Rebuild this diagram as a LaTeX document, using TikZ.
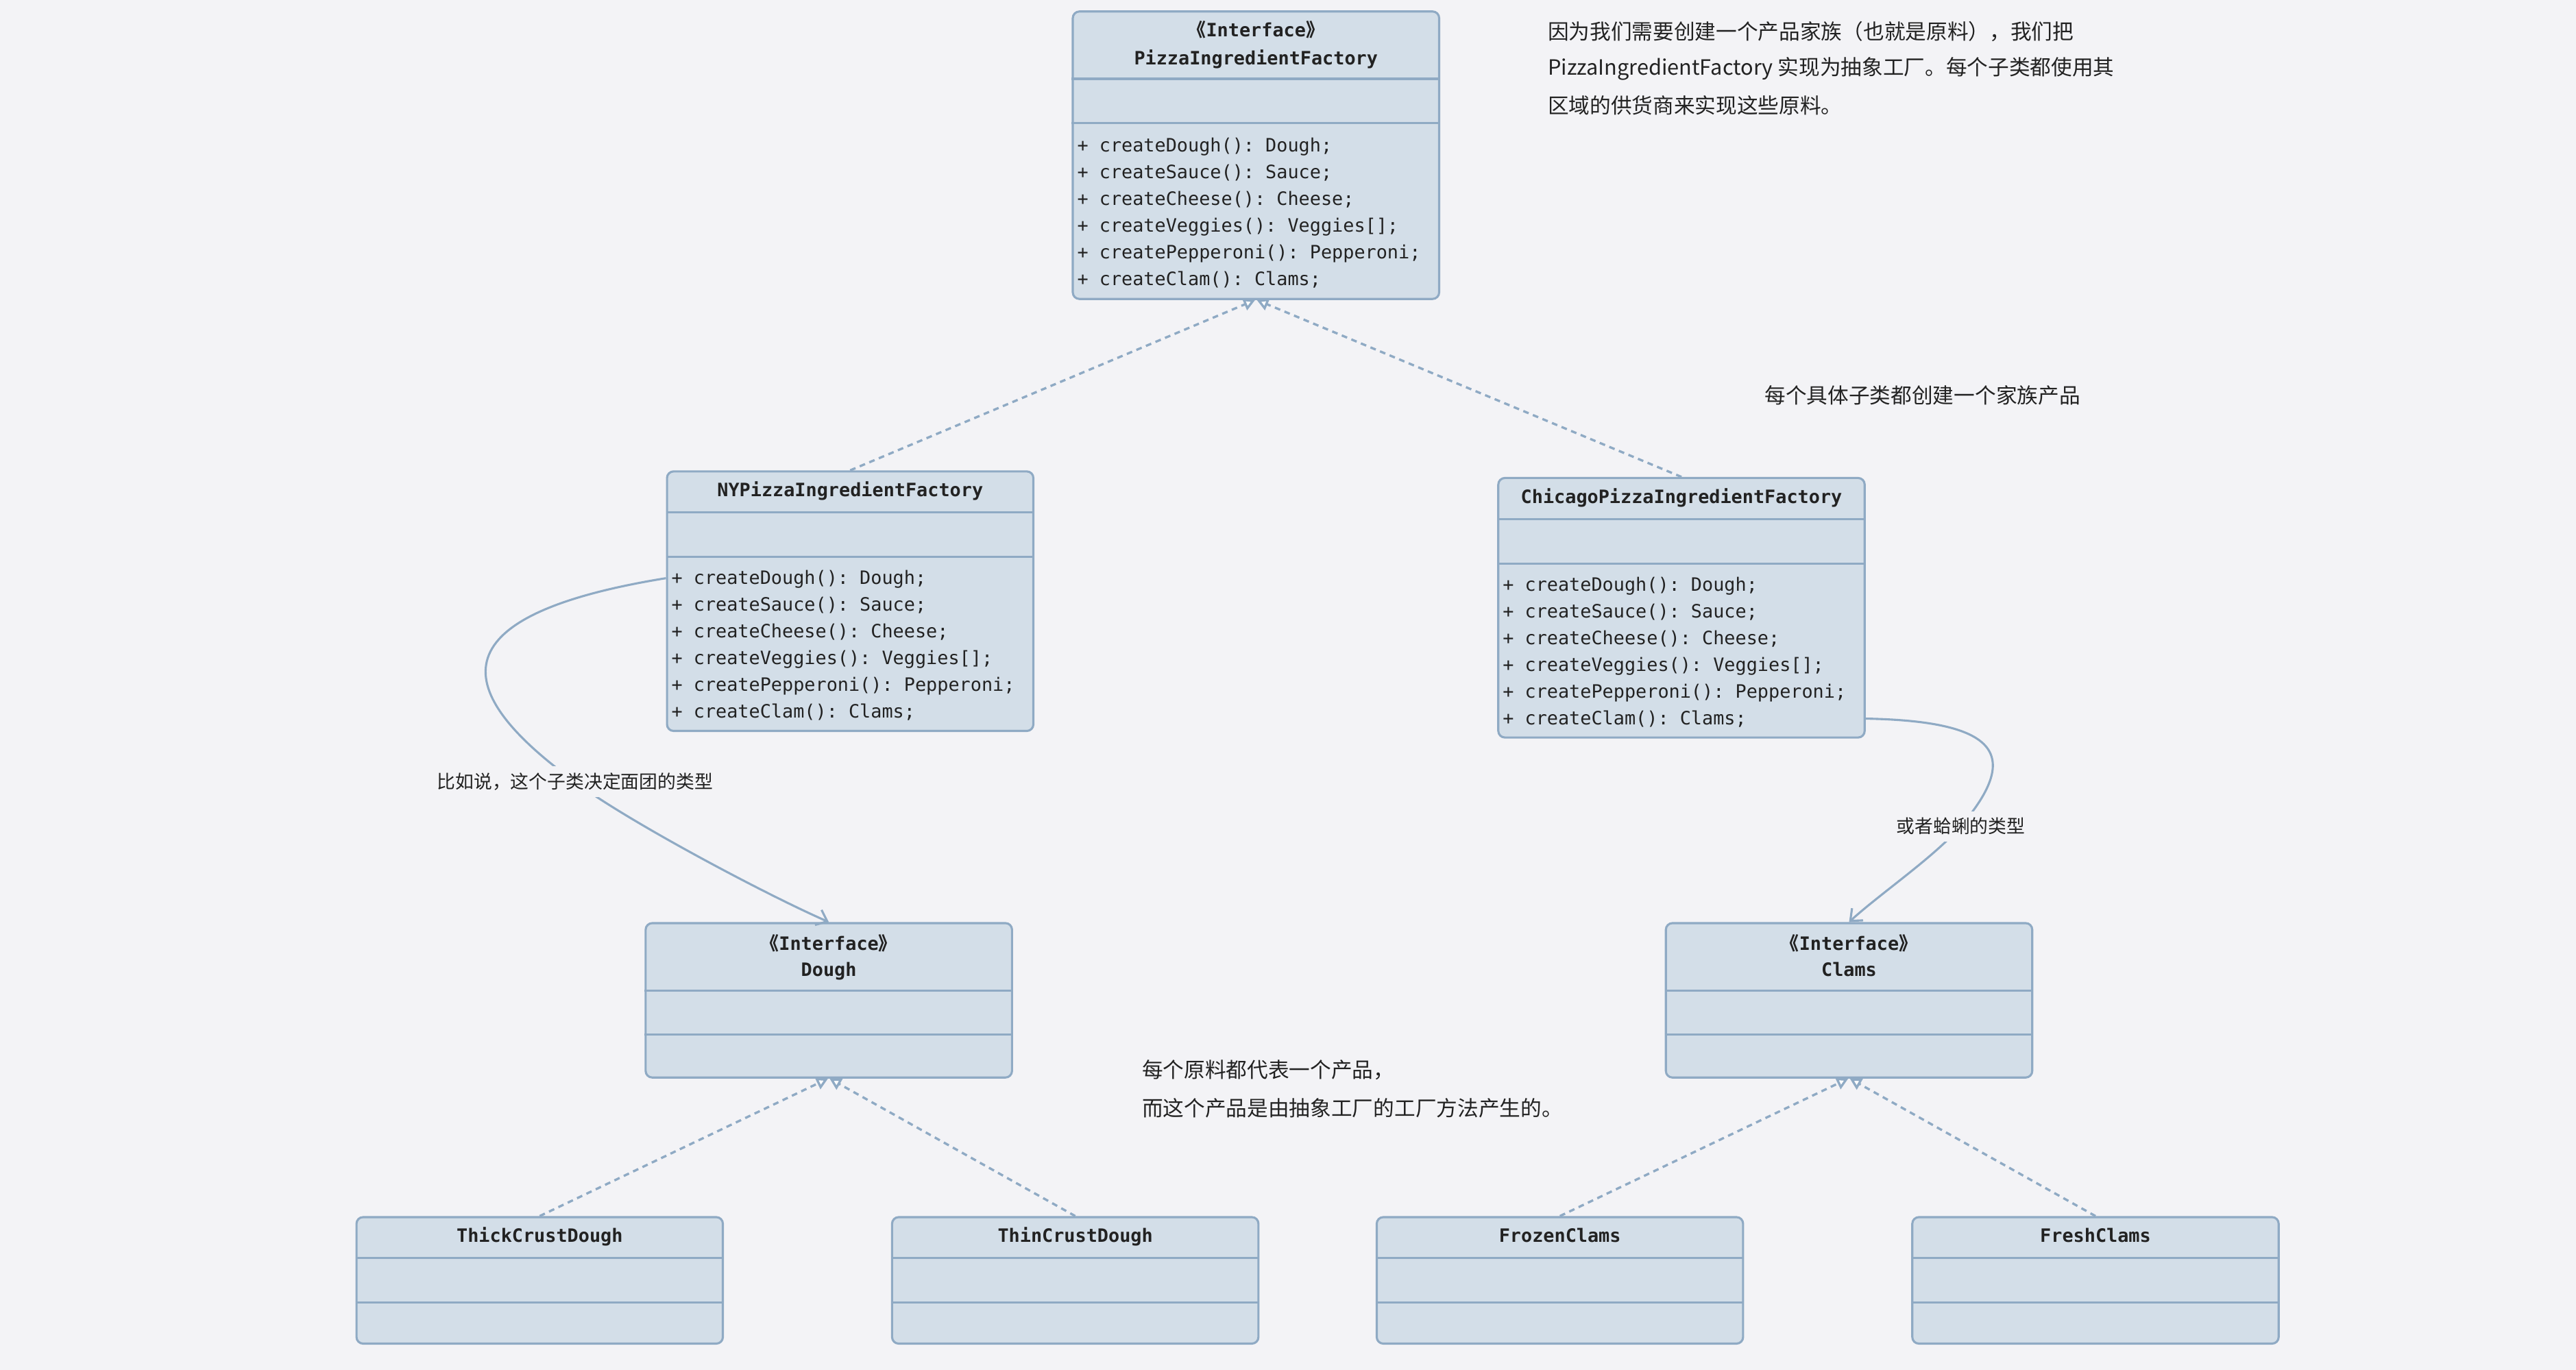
\documentclass[tikz,border=0pt]{standalone}
\usepackage{fontspec}
\setmainfont{Noto Sans CJK SC}
\setmonofont{DejaVu Sans Mono}
\newfontfamily\cjk{Noto Sans CJK SC}
\newfontfamily\cjkhalf[RawFeature=+halt]{Noto Sans CJK SC}
\usetikzlibrary{arrows.meta}
\definecolor{bg}{RGB}{243,243,246}
\definecolor{boxfill}{RGB}{211,222,232}
\definecolor{boxline}{RGB}{143,170,196}
\definecolor{ink}{RGB}{34,34,34}
\newcommand\stereo{{\cjkhalf 《}Interface{\cjkhalf 》}}
\newcommand\umlmethods[3]{%
  \foreach \t [count=\i] in {{+ createDough(): Dough;},{+ createSauce(): Sauce;},{+ createCheese(): Cheese;},{+ createVeggies(): Veggies[];},{+ createPepperoni(): Pepperoni;},{+ createClam(): Clams;}}
  {\node[mth] (#1m\i) at (#2,{#3+16.25*(\i-1)}) {\t};}}
\begin{document}
\begin{tikzpicture}[x=1pt,y=-1pt,
  cls/.style={draw=boxline, fill=boxfill, line width=1.3pt, rounded corners=4pt, minimum width=223pt, inner sep=0pt},
  sepline/.style={draw=boxline, line width=1.3pt},
  ttl/.style={font=\fontsize{11.2}{13}\ttfamily\bfseries, text=ink, inner sep=0pt, text height=8.5pt, text depth=2.3pt},
  mth/.style={font=\fontsize{11.2}{13}\ttfamily, text=ink, inner sep=0pt, anchor=west, text height=8.5pt, text depth=2.3pt},
  note/.style={font=\fontsize{12.8}{15}\cjk, text=ink, inner sep=0pt, anchor=west},
  lab/.style={font=\fontsize{11.2}{13}\cjk, text=ink, fill=bg, inner xsep=2pt, inner ysep=4pt},
  real/.style={draw=boxline, line width=1.4pt, dash pattern=on 3.5pt off 2.8pt, -{Triangle[open,length=7pt,width=7.5pt,fill=white]}},
  assoc/.style={draw=boxline, line width=1.3pt, -{Straight Barb[length=6pt,width=10pt]}},
]
\fill[bg] (0,0) rectangle (1568,834);
\useasboundingbox (0,0) rectangle (1568,834);

% boxes
\node[cls, minimum height=175pt] (pif) at (764.5,94.5) {};
\node[cls, minimum height=158pt] (ny) at (517.5,366) {};
\node[cls, minimum height=158pt] (chi) at (1023.5,370) {};
\node[cls, minimum height=94pt] (dough) at (504.5,609) {};
\node[cls, minimum height=94pt] (clams) at (1125.5,609) {};
\node[cls, minimum height=77pt] (thick) at (328.5,779.5) {};
\node[cls, minimum height=77pt] (thin) at (654.5,779.5) {};
\node[cls, minimum height=77pt] (frozen) at (949.5,779.5) {};
\node[cls, minimum height=77pt] (fresh) at (1275.5,779.5) {};

% compartments
\draw[sepline] (pif.west |- 0,48) -- (pif.east |- 0,48);
\draw[sepline] (pif.west |- 0,75) -- (pif.east |- 0,75);
\draw[sepline] (ny.west |- 0,312) -- (ny.east |- 0,312);
\draw[sepline] (ny.west |- 0,339) -- (ny.east |- 0,339);
\draw[sepline] (chi.west |- 0,316) -- (chi.east |- 0,316);
\draw[sepline] (chi.west |- 0,343) -- (chi.east |- 0,343);
\draw[sepline] (dough.west |- 0,603) -- (dough.east |- 0,603);
\draw[sepline] (dough.west |- 0,630) -- (dough.east |- 0,630);
\draw[sepline] (clams.west |- 0,603) -- (clams.east |- 0,603);
\draw[sepline] (clams.west |- 0,630) -- (clams.east |- 0,630);
\foreach \b in {thick,thin,frozen,fresh}{
  \draw[sepline] (\b.west |- 0,766) -- (\b.east |- 0,766);
  \draw[sepline] (\b.west |- 0,793) -- (\b.east |- 0,793);
}

% titles
\node[ttl] (pifs) at (764.5,19.3) {\stereo};
\node[ttl] (pift) at (764.5,36.3) {PizzaIngredientFactory};
\node[ttl] (nyt) at (517.5,299.3) {NYPizzaIngredientFactory};
\node[ttl] (chit) at (1023.5,303.3) {ChicagoPizzaIngredientFactory};
\node[ttl] (doughs) at (504.5,575.3) {\stereo};
\node[ttl] (dought) at (504.5,591.3) {Dough};
\node[ttl] (clamss) at (1125.5,575.3) {\stereo};
\node[ttl] (clamst) at (1125.5,591.3) {Clams};
\node[ttl] (thickt) at (328.5,753.3) {ThickCrustDough};
\node[ttl] (thint) at (654.5,753.3) {ThinCrustDough};
\node[ttl] (frozent) at (949.5,753.3) {FrozenClams};
\node[ttl] (fresht) at (1275.5,753.3) {FreshClams};

% methods
\umlmethods{pif}{655.5}{89.3}
\umlmethods{ny}{408.5}{352.8}
\umlmethods{chi}{914.5}{356.8}

% realizations
\draw[real] (ny.north) -- ([xshift=-0.5pt]pif.south);
\draw[real] (chi.north) -- ([xshift=0.5pt]pif.south);
\draw[real] (thick.north) -- ([xshift=-0.5pt]dough.south);
\draw[real] (thin.north) -- ([xshift=0.5pt]dough.south);
\draw[real] (frozen.north) -- ([xshift=-0.5pt]clams.south);
\draw[real] (fresh.north) -- ([xshift=0.5pt]clams.south);

% associations
\coordinate (m1) at (350,476);
\draw[assoc] ([yshift=14pt]ny.west) .. controls (270,374) and (270,418) .. (m1) .. controls (382,500) and (467,545) .. (dough.north);
\node[lab] (lab1) at (m1) {比如说，这个子类决定面团的类型};
\coordinate (m2) at (1193.5,503);
\draw[assoc] ([yshift=-67.5pt]chi.east) .. controls (1214,439) and (1232,458) .. (m2) .. controls (1177,522) and (1144.5,544) .. (clams.north);
\node[lab] (lab2) at (m2) {或者蛤蜊的类型};

% notes
\node[note] (n1) at (942,19) {因为我们需要创建一个产品家族（也就是原料），我们把};
\node[note] (n2) at (942,42) {PizzaIngredientFactory 实现为抽象工厂。每个子类都使用其};
\node[note] (n3) at (942,64) {区域的供货商来实现这些原料。};
\node[note] (n4) at (1074,240.5) {每个具体子类都创建一个家族产品};
\node[note] (n5) at (695,651.5) {每个原料都代表一个产品，};
\node[note] (n6) at (695,674.5) {而这个产品是由抽象工厂的工厂方法产生的。};
\end{tikzpicture}
\end{document}
